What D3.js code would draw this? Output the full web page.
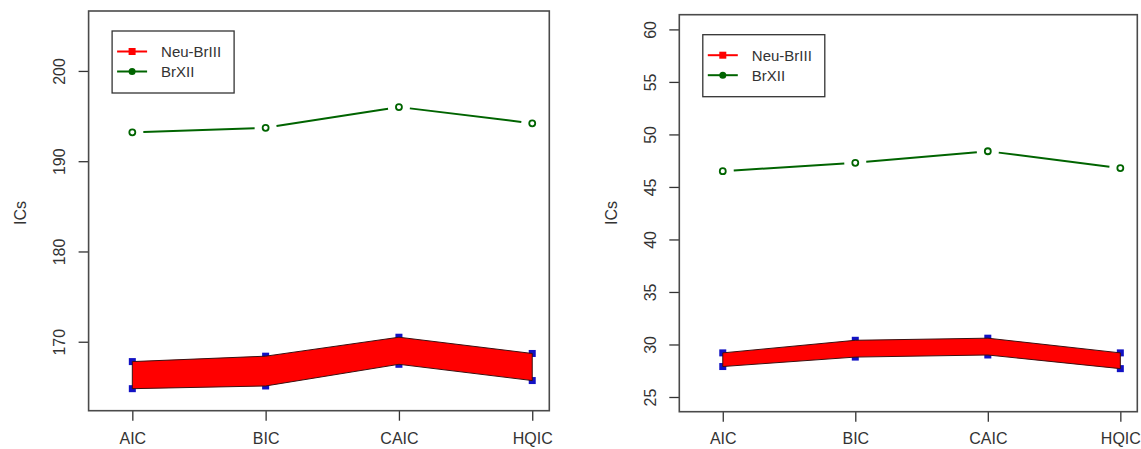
<!DOCTYPE html>
<html>
<head>
<meta charset="utf-8">
<script src="https://cdn.jsdelivr.net/npm/d3@7"></script>
<style>
  body { margin: 0; background: #fff; }
  svg { display: block; font-family: "Liberation Sans", Arial, sans-serif; }
</style>
</head>
<body>
<div id="app"></div>
<script>
const width = 1141,
  height = 449;

// criteria on the x axis
const criteria = ["AIC", "BIC", "CAIC", "HQIC"];
const seriesNames = ["Neu-BrIII", "BrXII"];

// left panel values
const leftBrXII = [193.2, 193.7, 196.0, 194.2];
const leftNeuUpper = [167.8, 168.4, 170.5, 168.7];
const leftNeuLower = [164.8, 165.1, 167.5, 165.7];
const leftTicks = [170, 180, 190, 200];
const leftYlim = [164, 205];

// right panel values
const rightBrXII = [46.5, 47.3, 48.4, 46.8];
const rightNeuUpper = [29.2, 30.4, 30.6, 29.2];
const rightNeuLower = [27.9, 28.8, 29.0, 27.7];
const rightTicks = [25, 30, 35, 40, 45, 50, 55, 60];
const rightYlim = [25, 60];

const xlim = [0.8, 4];

const red = "#ff0000",
  blue = "#1212c4",
  green = "#006400",
  ink = "#333";

// R-style 4% axis expansion
const expand = ([a, b]) => [a - (b - a) * 0.04, b + (b - a) * 0.04];

const svg = d3
  .select("#app")
  .append("svg")
  .attr("width", width)
  .attr("height", height);

svg.append("rect").attr("width", width).attr("height", height).attr("fill", "#fff");

const drawPanel = (box, ylim, ticks, brxii, upper, lower) => {
  const x = d3.scaleLinear().domain(expand(xlim)).range([box.left, box.right]);
  const y = d3.scaleLinear().domain(expand(ylim)).range([box.bottom, box.top]);
  const g = svg.append("g");

  // y axis with rotated labels
  g.append("g")
    .attr("transform", `translate(${box.left},0)`)
    .call(d3.axisLeft(y).tickValues(ticks).tickSize(10).tickFormat(d3.format("d")))
    .call((g) => g.select(".domain").remove())
    .call((g) => g.selectAll(".tick line").attr("stroke", ink).attr("stroke-width", 1.3))
    .call((g) =>
      g
        .selectAll(".tick text")
        .attr("x", null)
        .attr("dy", null)
        .attr("transform", "translate(-23.5,0) rotate(-90)")
        .attr("text-anchor", "middle")
        .attr("fill", ink)
        .style("font-size", "16px")
    );

  // x axis
  g.append("g")
    .attr("transform", `translate(0,${box.bottom})`)
    .call(
      d3
        .axisBottom(x)
        .tickValues(criteria.map((d, i) => i + 1))
        .tickSize(10)
        .tickFormat((d) => criteria[d - 1])
    )
    .call((g) => g.select(".domain").remove())
    .call((g) => g.selectAll(".tick line").attr("stroke", ink).attr("stroke-width", 1.3))
    .call((g) =>
      g
        .selectAll(".tick text")
        .attr("y", 449 - box.bottom - 4.5)
        .attr("dy", null)
        .attr("fill", ink)
        .style("font-size", "16px")
    );

  // y title
  g.append("text")
    .attr("transform", `translate(${box.left - 62.5},213) rotate(-90)`)
    .attr("text-anchor", "middle")
    .attr("fill", ink)
    .style("font-size", "16px")
    .text("ICs");

  // Neu-BrIII band: squares under the filled polygon
  const pts = criteria.map((c, i) => ({ i: i + 1, hi: upper[i], lo: lower[i] }));
  const sq = 7;
  g.append("g")
    .attr("fill", blue)
    .selectAll("rect")
    .data(pts.flatMap((d) => [[d.i, d.hi], [d.i, d.lo]]))
    .join("rect")
    .attr("x", (d) => x(d[0]) - sq / 2)
    .attr("y", (d) => y(d[1]) - sq / 2)
    .attr("width", sq)
    .attr("height", sq);

  g.append("path")
    .datum(pts)
    .attr("fill", red)
    .attr("stroke", "#3a1010")
    .attr("stroke-width", 1)
    .attr(
      "d",
      d3
        .area()
        .x((d) => x(d.i))
        .y0((d) => y(d.lo))
        .y1((d) => y(d.hi))
    );

  // BrXII: type "b" line with gaps around open circles
  const gp = brxii.map((v, i) => [x(i + 1), y(v)]);
  const gap = 11;
  g.append("g")
    .attr("stroke", green)
    .attr("stroke-width", 2)
    .selectAll("line")
    .data(d3.pairs(gp))
    .join("line")
    .each(function ([a, b]) {
      const dx = b[0] - a[0],
        dy = b[1] - a[1],
        len = Math.hypot(dx, dy),
        ux = dx / len,
        uy = dy / len;
      d3.select(this)
        .attr("x1", a[0] + ux * gap)
        .attr("y1", a[1] + uy * gap)
        .attr("x2", b[0] - ux * gap)
        .attr("y2", b[1] - uy * gap);
    });
  g.append("g")
    .selectAll("circle")
    .data(gp)
    .join("circle")
    .attr("cx", (d) => d[0])
    .attr("cy", (d) => d[1])
    .attr("r", 3)
    .attr("fill", "none")
    .attr("stroke", green)
    .attr("stroke-width", 1.8);

  // plot frame
  g.append("rect")
    .attr("x", box.left)
    .attr("y", box.top)
    .attr("width", box.right - box.left)
    .attr("height", box.bottom - box.top)
    .attr("fill", "none")
    .attr("stroke", "#4a4a4a")
    .attr("stroke-width", 1.6);

  // legend
  const lx = box.left + 23.5,
    ly = box.top + 20;
  const leg = g.append("g").attr("transform", `translate(${lx},${ly})`);
  leg.append("rect")
    .attr("width", 122)
    .attr("height", 62)
    .attr("fill", "#fff")
    .attr("stroke", ink)
    .attr("stroke-width", 1.3);
  seriesNames.forEach((name, i) => {
    const col = i === 0 ? red : green;
    const ry = 20.5 + i * 20;
    leg.append("line")
      .attr("x1", 5)
      .attr("x2", 35)
      .attr("y1", ry)
      .attr("y2", ry)
      .attr("stroke", col)
      .attr("stroke-width", 2);
    if (i === 0) {
      leg.append("rect")
        .attr("x", 16.5)
        .attr("y", ry - 3.5)
        .attr("width", 7)
        .attr("height", 7)
        .attr("fill", col);
    } else {
      leg.append("circle").attr("cx", 20).attr("cy", ry).attr("r", 3.5).attr("fill", col);
    }
    leg.append("text")
      .attr("x", 49)
      .attr("y", ry + 5.5)
      .attr("fill", ink)
      .style("font-size", "15px")
      .text(name);
  });
};

drawPanel(
  { left: 88.6, right: 549.3, top: 11, bottom: 410.7 },
  leftYlim,
  leftTicks,
  leftBrXII,
  leftNeuUpper,
  leftNeuLower
);
drawPanel(
  { left: 679.3, right: 1137.3, top: 14.7, bottom: 411.7 },
  rightYlim,
  rightTicks,
  rightBrXII,
  rightNeuUpper,
  rightNeuLower
);
</script>
</body>
</html>
